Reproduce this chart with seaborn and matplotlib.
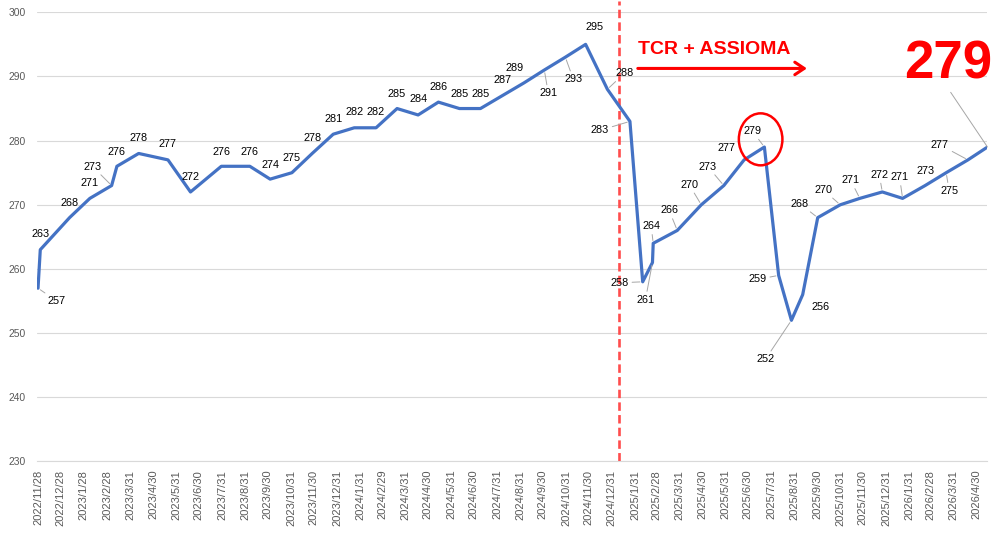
import pandas as pd
import matplotlib
matplotlib.use('Agg')
import matplotlib.pyplot as plt
from matplotlib.patches import Ellipse
import seaborn as sns

# readings (date, value)
dates = ['2022-11-28', '2022-12-01', '2023-01-09', '2023-02-05', '2023-03-06', '2023-03-13',
         '2023-04-11', '2023-05-20', '2023-06-19', '2023-07-30', '2023-09-06', '2023-10-03',
         '2023-11-01', '2023-11-28', '2023-12-26', '2024-01-23', '2024-02-21', '2024-03-20',
         '2024-04-17', '2024-05-14', '2024-06-11', '2024-07-09', '2024-08-07', '2024-09-05',
         '2024-10-02', '2024-10-30', '2024-11-26', '2024-12-25', '2025-01-24', '2025-02-10',
         '2025-02-23', '2025-02-24', '2025-03-28', '2025-04-29', '2025-05-29', '2025-06-25',
         '2025-07-22', '2025-08-10', '2025-08-27', '2025-09-11', '2025-10-01', '2025-10-31',
         '2025-11-26', '2025-12-26', '2026-01-22', '2026-02-21', '2026-03-21', '2026-04-19',
         '2026-05-15']
values = [257, 263, 268, 271, 273, 276, 278, 277, 272, 276, 276, 274,
          275, 278, 281, 282, 282, 285, 284, 286, 285, 285, 287, 289,
          291, 293, 295, 288, 283, 258, 261, 264, 266, 270, 273, 277,
          279, 259, 252, 256, 268, 270, 271, 272, 271, 273, 275, 277,
          279]

tick_labels = ['2022/11/28', '2022/12/28', '2023/1/28', '2023/2/28', '2023/3/31', '2023/4/30',
               '2023/5/31', '2023/6/30', '2023/7/31', '2023/8/31', '2023/9/30', '2023/10/31',
               '2023/11/30', '2023/12/31', '2024/1/31', '2024/2/29', '2024/3/31', '2024/4/30',
               '2024/5/31', '2024/6/30', '2024/7/31', '2024/8/31', '2024/9/30', '2024/10/31',
               '2024/11/30', '2024/12/31', '2025/1/31', '2025/2/28', '2025/3/31', '2025/4/30',
               '2025/5/31', '2025/6/30', '2025/7/31', '2025/8/31', '2025/9/30', '2025/10/31',
               '2025/11/30', '2025/12/31', '2026/1/31', '2026/2/28', '2026/3/31', '2026/4/30']

event_date = '2025-01-09'
event_text = 'TCR + ASSIOMA'

# label placement (pixels from the point, + = right / down) and leader flags
label_dx = [19, 0, 0, 0, -19, 0, 0, 0, 0, 0, 0, 0,
            0, 0, 0, 0, 0, 0, 0, 0, 0, 0, 0, -9,
            4, 8, 9, 17, -30, -23, -7, -2, -8, -12, -16, -18,
            -12, -21, -26, 18, -18, -17, -9, -3, -3, 0, 3, -28]
label_dy = [12, -17, -16, -16, -20, -15, -16, -17, -16, -15, -15, -15,
            -16, -16, -16, -17, -17, -16, -17, -16, -16, -16, -17, -16,
            22, 21, -18, -17, 8, 0, 36, -18, -21, -21, -20, -13,
            -17, 3, 38, 11, -15, -16, -19, -18, -22, -16, 17, -16]
leader = [1, 0, 0, 0, 1, 0, 0, 0, 0, 0, 0, 0,
          0, 0, 0, 0, 0, 0, 0, 0, 0, 0, 0, 0,
          1, 1, 0, 1, 1, 1, 1, 1, 1, 1, 1, 0,
          1, 1, 1, 0, 1, 1, 1, 1, 1, 0, 1, 1]

sns.set_style('white')
plt.rcParams['font.family'] = ['Liberation Sans', 'DejaVu Sans']

df = pd.DataFrame({'date': pd.to_datetime(dates), 'value': values})

fig = plt.figure(figsize=(10.02, 5.34), dpi=100)
ax = fig.add_axes([0.0372, 0.1358, 0.9483, 0.8412])

sns.lineplot(data=df, x='date', y='value', ax=ax, color='#4472C4', lw=2.3,
             solid_joinstyle='round', zorder=3)

ax.set_ylim(230, 300)
ax.set_yticks(range(230, 301, 10))
ax.set_xlim(pd.Timestamp('2022-11-27'), pd.Timestamp('2026-05-15'))
ax.set_xticks(pd.to_datetime(tick_labels, format='%Y/%m/%d'))
ax.set_xticklabels(tick_labels, rotation=90)
ax.set_xlabel('')
ax.set_ylabel('')

ax.yaxis.grid(True, color='#D9D9D9', lw=0.8)
ax.xaxis.grid(False)
for s in ['top', 'right', 'left']:
    ax.spines[s].set_visible(False)
ax.spines['bottom'].set_color('#D9D9D9')
ax.spines['bottom'].set_linewidth(0.8)
ax.tick_params(axis='x', length=4, width=0.8, color='#D9D9D9', pad=2,
               labelsize=8, labelcolor='#595959')
ax.tick_params(axis='y', length=0, pad=8.5, labelsize=7.4, labelcolor='#595959')

# data labels
for i in range(len(values) - 1):
    ap = None
    if leader[i]:
        ap = dict(arrowstyle='-', color='#A6A6A6', lw=0.7, shrinkA=0, shrinkB=2)
    ax.annotate(str(values[i]), xy=(df['date'][i], values[i]),
                xytext=(label_dx[i], -label_dy[i] - 1), textcoords='offset pixels',
                ha='center', va='center', fontsize=7.8, color='black',
                arrowprops=ap, zorder=4)

# last value, big and red
ax.annotate(str(values[-1]), xy=(df['date'].iloc[-1], values[-1]),
            xytext=(-39, 69), textcoords='offset pixels',
            ha='center', va='baseline', fontsize=38, fontweight='bold', color='#FF0000',
            arrowprops=dict(arrowstyle='-', color='#A6A6A6', lw=0.7, relpos=(0.5, 0),
                            shrinkA=0, shrinkB=0),
            annotation_clip=False, zorder=4)

# event marker
ax.axvline(pd.Timestamp(event_date), ymin=0, ymax=1.025, color='#FF4D4D', lw=1.9,
           ls=(0, (3.2, 1.6)), clip_on=False, zorder=2)
ax.text(0.632, 0.918, event_text, transform=ax.transAxes, color='#FF0000',
        fontsize=14, fontweight='bold', ha='left', va='center')
ax.annotate('', xy=(0.81, 0.875), xytext=(0.632, 0.875), xycoords='axes fraction',
            arrowprops=dict(arrowstyle='->, head_length=0.45, head_width=0.3',
                            color='#FF0000', lw=2.2, mutation_scale=15,
                            shrinkA=0, shrinkB=0))

# circle round the mid-2025 peak
i_peak = 36
peak_x = pd.Timestamp(dates[i_peak]) - pd.Timedelta(days=5)
ax.add_patch(Ellipse((matplotlib.dates.date2num(peak_x), values[i_peak] + 1.2),
                     width=58, height=8.1, fill=False, ec='#FF0000', lw=1.8, zorder=5))

fig.savefig('out.png', dpi=100)
